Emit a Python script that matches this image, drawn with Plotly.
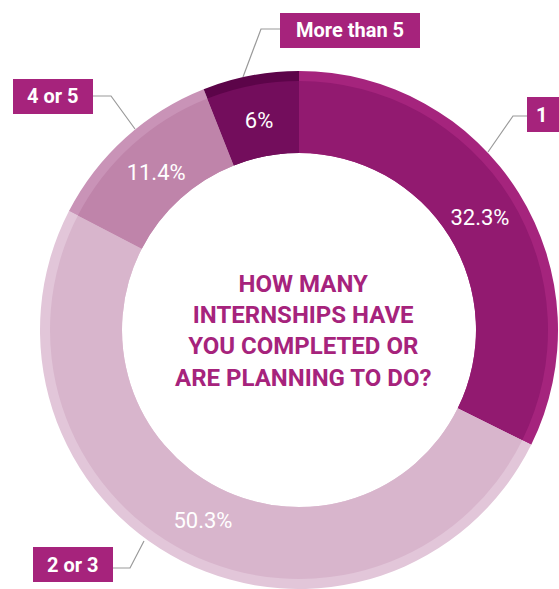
import plotly.graph_objects as go

# Survey results: number of internships completed or planned
categories = ["1", "2 or 3", "4 or 5", "More than 5"]
shares = [32.3, 50.3, 11.4, 6]

band_colors = ["#921a70", "#d8b5cc", "#bf84aa", "#730d5c"]
rim_colors = ["#a5247d", "#e2c6d9", "#c993b7", "#5c0449"]

title_lines = ["HOW MANY", "INTERNSHIPS HAVE", "YOU COMPLETED OR", "ARE PLANNING TO DO?"]

W, H = 559, 589
MAGENTA = "#a6237c"
CX, CY = 299, 330          # ring centre (px)
R_RIM, R_BAND, R_IN = 259, 249, 177


def px(x):
    return x / W


def py(y):
    return 1 - y / H


def ring_domain(r):
    return dict(x=[px(CX - r), px(CX + r)], y=[py(CY + r), py(CY - r)])


fig = go.Figure()

# outer rim ring (drawn first, sits behind the main band)
fig.add_trace(go.Pie(
    labels=categories, values=shares, sort=False, direction="clockwise", rotation=0,
    hole=R_IN / R_RIM, domain=ring_domain(R_RIM),
    marker=dict(colors=rim_colors, line=dict(width=0)),
    textinfo="none", hoverinfo="skip", showlegend=False,
))

# main donut band with the percentage labels
fig.add_trace(go.Pie(
    labels=categories, values=shares, sort=False, direction="clockwise", rotation=0,
    hole=R_IN / R_BAND, domain=ring_domain(R_BAND),
    marker=dict(colors=band_colors, line=dict(width=0)),
    text=[f"{v:g}%" for v in shares], textinfo="text",
    textposition="inside", insidetextorientation="horizontal",
    textfont=dict(family="Roboto", size=22, color="white"),
    hovertemplate="%{label}: %{value}%<extra></extra>", showlegend=False,
))

# category tags (box px coords, text x) and their leader lines
tags = [
    ("1", (527, 97, 575, 132), 541, [(527, 116), (513, 116), (488, 152)]),
    ("2 or 3", (33, 547, 113, 582), 73, [(113, 568), (130, 568), (144, 541)]),
    ("4 or 5", (13, 79, 93, 114), 53, [(93, 96), (111, 96), (135, 129)]),
    ("More than 5", (280, 13, 420, 48), 350, [(280, 29), (261, 29), (243, 77)]),
]

shapes = []
annotations = []
for label, (x0, y0, x1, y1), tx, pts in tags:
    shapes.append(dict(type="rect", xref="paper", yref="paper",
                       x0=px(x0), x1=px(x1), y0=py(y1), y1=py(y0),
                       fillcolor=MAGENTA, line=dict(width=0), layer="above"))
    path = "M " + " L ".join(f"{px(a)},{py(b)}" for a, b in pts)
    shapes.append(dict(type="path", xref="paper", yref="paper", path=path,
                       line=dict(color="#9a9a9a", width=1.2)))
    annotations.append(dict(x=px(tx), y=py((y0 + y1) / 2), xref="paper", yref="paper",
                            text=f"<b>{label}</b>", showarrow=False,
                            xanchor="center", yanchor="middle",
                            font=dict(family="Roboto", size=20, color="white")))

annotations.append(dict(x=px(CX + 4), y=py(CY + 1), xref="paper", yref="paper",
                        text="<b>" + "<br>".join(title_lines) + "</b>", showarrow=False,
                        xanchor="center", yanchor="middle", align="center",
                        font=dict(family="Roboto", size=24, color=MAGENTA)))

fig.update_layout(
    width=W, height=H,
    margin=dict(l=0, r=0, t=0, b=0),
    paper_bgcolor="white", plot_bgcolor="white",
    shapes=shapes, annotations=annotations,
    showlegend=False,
)

fig.write_html("out.html")
